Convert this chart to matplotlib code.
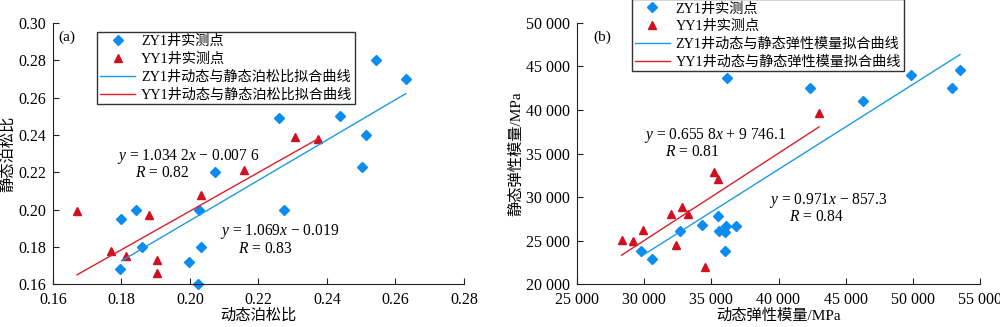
import matplotlib.pyplot as plt

plt.rcParams['font.family'] = ['Liberation Serif', 'Noto Sans CJK SC']
plt.rcParams['font.size'] = 11
plt.rcParams['mathtext.fontset'] = 'custom'
plt.rcParams['mathtext.rm'] = 'Liberation Serif'
plt.rcParams['mathtext.it'] = 'Liberation Serif:italic'

# (a) Poisson's ratio
zy_pr_x = [0.2542, 0.263, 0.226, 0.2437, 0.2513, 0.2502, 0.2074, 0.2274,
           0.1842, 0.2025, 0.1798, 0.186, 0.2032, 0.1998, 0.1797, 0.2024]
zy_pr_y = [0.280, 0.270, 0.249, 0.250, 0.240, 0.223, 0.220, 0.200,
           0.200, 0.200, 0.195, 0.180, 0.180, 0.172, 0.168, 0.160]
yy_pr_x = [0.167, 0.177, 0.1814, 0.188, 0.1903, 0.1903, 0.2031, 0.2158, 0.2306, 0.2374]
yy_pr_y = [0.199, 0.178, 0.175, 0.197, 0.173, 0.166, 0.208, 0.221, 0.239, 0.238]
zy_pr_fit_x = [0.180, 0.263]
zy_pr_fit_y = [0.1725, 0.2621]
yy_pr_fit_x = [0.167, 0.2374]
yy_pr_fit_y = [0.165, 0.2379]
pr_xticks = [0.16, 0.18, 0.20, 0.22, 0.24, 0.26, 0.28]
pr_yticks = [0.16, 0.18, 0.20, 0.22, 0.24, 0.26, 0.28, 0.30]

# (b) elastic modulus (MPa)
zy_e_x = [36132, 42330, 46322, 49892, 52892, 53512, 35487, 34273,
          36058, 36851, 35537, 35983, 32686, 36008, 29785, 30603]
zy_e_y = [43725, 42577, 41007, 43992, 42538, 44566, 27806, 26773,
          26735, 26697, 26161, 26046, 26084, 23826, 23826, 22946]
yy_e_x = [43025, 35190, 35487, 32810, 31992, 33256, 29934, 28322, 29140, 32388, 34520]
yy_e_y = [39707, 32857, 32130, 28877, 28112, 28036, 26275, 25050, 24974, 24553, 21990]
zy_e_fit_x = [29835, 53512]
zy_e_fit_y = [23253, 46365]
yy_e_fit_x = [28322, 43025]
yy_e_fit_y = [23330, 38062]
e_xticks = [25000, 30000, 35000, 40000, 45000, 50000, 55000]
e_yticks = [20000, 25000, 30000, 35000, 40000, 45000, 50000]

blue = '#0a8cf0'
red = '#d0101e'
line_blue = '#1a9be6'
line_red = '#d9202a'


def thousands(v):
    return '{:,}'.format(v).replace(',', ' ')


fig = plt.figure(figsize=(10, 3.27), dpi=100)
ax1 = fig.add_axes([0.053, 0.131, 0.411, 0.799])
ax2 = fig.add_axes([0.577, 0.131, 0.403, 0.799])

for ax in (ax1, ax2):
    ax.spines['top'].set_visible(False)
    ax.spines['right'].set_visible(False)
    ax.spines['left'].set_color('#222222')
    ax.spines['bottom'].set_color('#222222')
    ax.tick_params(direction='in', length=4, color='#222222', labelsize=11.5)
    ax.tick_params(axis='x', pad=6)
    ax.tick_params(axis='y', pad=5)

leg_kw = dict(loc='upper left', frameon=True, fancybox=False, edgecolor='black',
              fontsize=10.2, handlelength=2.5, handletextpad=0.4,
              borderpad=0.2, labelspacing=0.32, borderaxespad=0)
eq_kw = dict(ha='center', va='center', fontsize=11.2)

# panel (a)
ax1.plot(zy_pr_x, zy_pr_y, 'D', color=blue, ms=5, ls='none', label='ZY1井实测点', clip_on=False)
ax1.plot(yy_pr_x, yy_pr_y, '^', color=red, ms=6, ls='none', label='YY1井实测点', clip_on=False)
ax1.plot(zy_pr_fit_x, zy_pr_fit_y, color=line_blue, lw=1, label='ZY1井动态与静态泊松比拟合曲线')
ax1.plot(yy_pr_fit_x, yy_pr_fit_y, color=line_red, lw=1, label='YY1井动态与静态泊松比拟合曲线')
ax1.set_xlim(0.16, 0.28)
ax1.set_ylim(0.16, 0.30)
ax1.set_xticks(pr_xticks)
ax1.set_xticklabels(['%.2f' % t for t in pr_xticks])
ax1.set_yticks(pr_yticks)
ax1.set_yticklabels(['%.2f' % t for t in pr_yticks])
ax1.set_xlabel('动态泊松比', fontsize=11, labelpad=0)
ax1.set_ylabel('静态泊松比', fontsize=11, labelpad=2)
ax1.text(0.013, 0.93, '(a)', transform=ax1.transAxes, fontsize=11)
ax1.text(0.1995, 0.2282, '$y$ = 1.034 2$x$ − 0.007 6', **eq_kw)
ax1.text(0.1919, 0.2193, '$R$ = 0.82', **eq_kw)
ax1.text(0.2262, 0.1880, '$y$ = 1.069$x$ − 0.019', **eq_kw)
ax1.text(0.2219, 0.1791, '$R$ = 0.83', **eq_kw)
leg = ax1.legend(bbox_to_anchor=(0.107, 0.965), **leg_kw)
leg.get_frame().set_linewidth(1)

# panel (b)
ax2.plot(zy_e_x, zy_e_y, 'D', color=blue, ms=5, ls='none', label='ZY1井实测点')
ax2.plot(yy_e_x, yy_e_y, '^', color=red, ms=6, ls='none', label='YY1井实测点')
ax2.plot(zy_e_fit_x, zy_e_fit_y, color=line_blue, lw=1, label='ZY1井动态与静态弹性模量拟合曲线')
ax2.plot(yy_e_fit_x, yy_e_fit_y, color=line_red, lw=1, label='YY1井动态与静态弹性模量拟合曲线')
ax2.set_xlim(25000, 55000)
ax2.set_ylim(20000, 50000)
ax2.set_xticks(e_xticks)
ax2.set_xticklabels([thousands(t) for t in e_xticks])
ax2.set_yticks(e_yticks)
ax2.set_yticklabels([thousands(t) for t in e_yticks])
ax2.set_xlabel('动态弹性模量/MPa', fontsize=11, labelpad=0)
ax2.set_ylabel('静态弹性模量/MPa', fontsize=11, labelpad=2)
ax2.text(0.04, 0.93, '(b)', transform=ax2.transAxes, fontsize=11)
ax2.text(35264, 37105, '$y$ = 0.655 8$x$ + 9 746.1', **eq_kw)
ax2.text(33579, 35192, '$R$ = 0.81', **eq_kw)
ax2.text(43669, 29643, '$y$ = 0.971$x$ − 857.3', **eq_kw)
ax2.text(42826, 27730, '$R$ = 0.84', **eq_kw)
leg = ax2.legend(bbox_to_anchor=(0.136, 1.09), **leg_kw)
leg.get_frame().set_linewidth(1)

fig.savefig('out.png', dpi=100)
